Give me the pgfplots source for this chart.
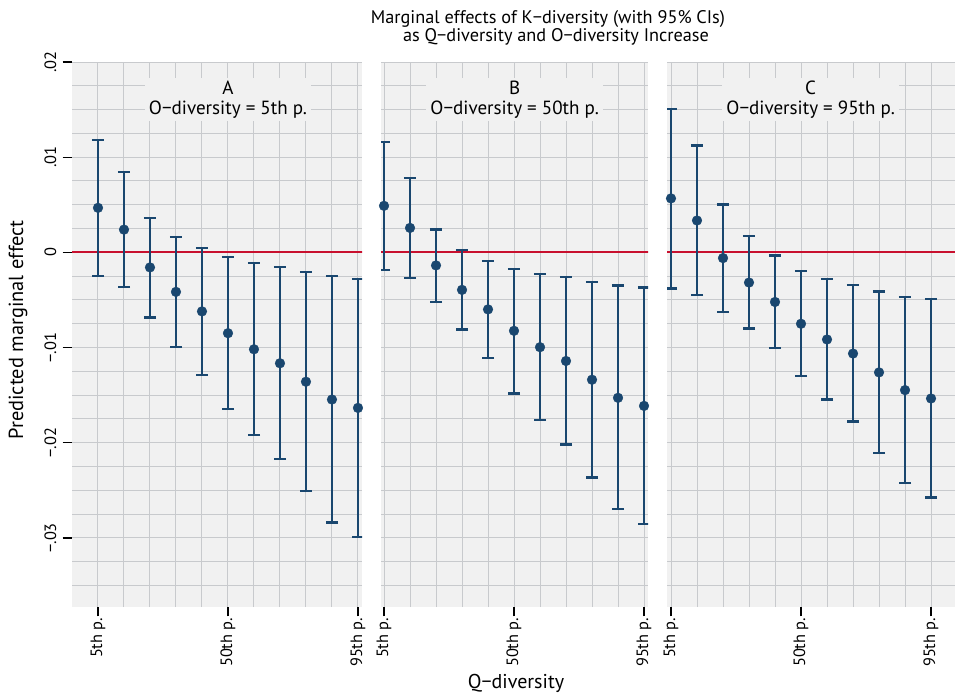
\documentclass[border=0pt]{standalone}
\usepackage{fontspec}
\setmainfont{PT Sans}
\usepackage{pgfplots}
\pgfplotsset{compat=1.18}
\usepackage{pgfplotstable}

\definecolor{navy}{HTML}{1A476F}
\definecolor{zred}{HTML}{C8102E}
\definecolor{pbg}{HTML}{F1F1F1}
\definecolor{gridc}{HTML}{C8CACD}

\pgfplotstableread{
x y lo hi
5 0.00468 -0.00246 0.01183
14 0.00239 -0.00363 0.00842
23 -0.00158 -0.00683 0.00363
32 -0.00415 -0.00993 0.00162
41 -0.00620 -0.01285 0.00049
50 -0.00849 -0.01644 -0.00049
59 -0.01018 -0.01919 -0.00109
68 -0.01165 -0.02169 -0.00151
77 -0.01359 -0.02510 -0.00208
86 -0.01546 -0.02838 -0.00250
95 -0.01634 -0.02990 -0.00278
}\tabA

\pgfplotstableread{
x y lo hi
5 0.00489 -0.00187 0.01158
14 0.00257 -0.00268 0.00782
23 -0.00137 -0.00518 0.00239
32 -0.00394 -0.00810 0.00025
41 -0.00599 -0.01109 -0.00092
50 -0.00824 -0.01482 -0.00173
59 -0.00996 -0.01764 -0.00225
68 -0.01141 -0.02018 -0.00257
77 -0.01338 -0.02366 -0.00310
86 -0.01528 -0.02700 -0.00349
95 -0.01613 -0.02856 -0.00370
}\tabB

\pgfplotstableread{
x y lo hi
5 0.00567 -0.00380 0.01510
14 0.00335 -0.00451 0.01123
23 -0.00060 -0.00623 0.00504
32 -0.00317 -0.00799 0.00173
41 -0.00521 -0.01004 -0.00032
50 -0.00750 -0.01299 -0.00197
59 -0.00915 -0.01546 -0.00282
68 -0.01063 -0.01778 -0.00342
77 -0.01261 -0.02106 -0.00412
86 -0.01447 -0.02423 -0.00468
95 -0.01535 -0.02574 -0.00493
}\tabC

\pgfplotsset{
  panel/.style={
    scale only axis, anchor=north west,
    height=408.75pt,
    ymin=-0.03726, ymax=0.02,
    axis background/.style={fill=pbg},
    axis line style={draw=none},
    tick pos=left,
    xtick={5,50,95}, xticklabels={5th p.,50th p.,95th p.},
    minor xtick={5,14,23,32,41,50,59,68,77,86,95},
    ytick={-0.03,-0.02,-0.01,0,0.01,0.02},
    minor ytick={-0.035,-0.0325,-0.0275,-0.025,-0.0225,-0.0175,-0.015,-0.0125,-0.0075,-0.005,-0.0025,0.0025,0.005,0.0075,0.0125,0.015,0.0175},
    grid=both,
    major grid style={gridc, line width=0.75pt},
    minor grid style={gridc, line width=0.75pt},
    tick align=outside,
    major tick length=7pt, minor tick length=0pt,
    tick style={black, line width=1pt},
    xticklabel style={rotate=90, anchor=east, font=\fontsize{12.3}{14}\selectfont, inner sep=1pt},
    yticklabel style={rotate=90, anchor=south, font=\fontsize{12.3}{14}\selectfont, inner sep=4.5pt},
    scaled y ticks=false,
  },
  ci/.style={navy, only marks, mark=*, mark size=3.7pt,
    mark options={fill=navy, draw=navy, line width=0.2pt},
    error bars/.cd, y dir=both, y explicit,
    error bar style={line width=1.7pt, navy},
    error mark=-,
    error mark options={rotate=90, navy, line width=1.7pt, mark size=4.6pt}},
}

\begin{document}
\begin{tikzpicture}
\path[use as bounding box] (0,0) rectangle (716.25pt,-520.5pt);

% Panel A
\begin{axis}[panel, at={(54pt,-46.5pt)}, width=217.5pt,
  xmin=-4, xmax=96.4,
  yticklabels={−.03,−.02,−.01,0,.01,.02}]
\addplot[zred, line width=1.5pt, forget plot] coordinates {(-10,0) (110,0)};
\addplot[ci] table[x=x, y=y, y error plus expr=\thisrow{hi}-\thisrow{y}, y error minus expr=\thisrow{y}-\thisrow{lo}] {\tabA};
\end{axis}

% Panel B
\begin{axis}[panel, at={(285.75pt,-46.5pt)}, width=200.25pt,
  xmin=3.96, xmax=96.38,
  yticklabels={}, ytick style={draw=none}]
\addplot[zred, line width=1.5pt, forget plot] coordinates {(-10,0) (110,0)};
\addplot[ci] table[x=x, y=y, y error plus expr=\thisrow{hi}-\thisrow{y}, y error minus expr=\thisrow{y}-\thisrow{lo}] {\tabB};
\end{axis}

% Panel C
\begin{axis}[panel, at={(500.25pt,-46.5pt)}, width=216pt,
  xmin=3.62, xmax=103.3,
  yticklabels={}, ytick style={draw=none}]
\addplot[zred, line width=1.5pt, forget plot] coordinates {(-10,0) (110,0)};
\addplot[ci] table[x=x, y=y, y error plus expr=\thisrow{hi}-\thisrow{y}, y error minus expr=\thisrow{y}-\thisrow{lo}] {\tabC};
\end{axis}

% panel titles
\begin{scope}[every node/.style={fill=pbg, align=center, inner xsep=3pt, inner ysep=2pt, font=\fontsize{14.3}{15}\selectfont}]
\node at (171pt,-74.5pt) {A\\O−diversity = 5th p.};
\node at (386pt,-74.5pt) {B\\O−diversity = 50th p.};
\node at (608pt,-74.5pt) {C\\O−diversity = 95th p.};
\end{scope}

% titles and axis labels
\node[font=\fontsize{13.7}{15}\selectfont] at (411pt,-14pt) {Marginal effects of K−diversity (with 95\% CIs)};
\node[font=\fontsize{13.7}{15}\selectfont] at (417pt,-27.5pt) {as Q−diversity and O−diversity Increase};
\node[font=\fontsize{15.3}{17}\selectfont, rotate=90] at (13.5pt,-247.5pt) {Predicted marginal effect};
\node[font=\fontsize{15}{17}\selectfont] at (387pt,-512.5pt) {Q−diversity};
\end{tikzpicture}
\end{document}
